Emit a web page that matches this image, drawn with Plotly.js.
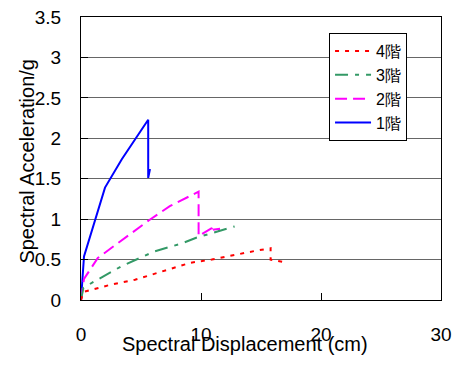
<!DOCTYPE html>
<html>
<head>
<meta charset="utf-8">
<script src="https://cdn.plot.ly/plotly-3.0.1.min.js"></script>
<style>html,body{margin:0;padding:0;background:#fff;}</style>
</head>
<body>
<div id="chart" style="width:453px;height:365px;"></div>
<script>
// Series names
const seriesNames = ["1階", "2階", "3階", "4階"];
// 1階 (solid blue)
const sd1 = [0, 0.25, 2.0, 3.4, 5.6, 5.6, 5.75];
const sa1 = [0, 0.54, 1.39, 1.74, 2.23, 1.51, 1.62];
// 2階 (dashed magenta)
const sd2 = [0, 0.25, 1.4, 3.4, 5.7, 7.4, 9.2, 9.8, 9.8, 10.3, 10.9, 10.9, 11.0, 11.5, 11.5];
const sa2 = [0, 0.26, 0.52, 0.74, 0.99, 1.16, 1.30, 1.34, 0.79, 0.84, 0.89, 0.84, 0.87, 0.88, 0.84];
// 3階 (dash-dot green)
const sd3 = [0, 0.2, 1.0, 3.4, 6.1, 8.4, 9.6, 12.8];
const sa3 = [0, 0.15, 0.22, 0.42, 0.60, 0.70, 0.77, 0.91];
// 4階 (dotted red)
const sd4 = [0, 0.2, 0.7, 2.5, 4.5, 6.6, 9.1, 10.9, 12.8, 14.6, 15.8, 15.8, 17.2];
const sa4 = [0, 0.10, 0.12, 0.19, 0.25, 0.35, 0.46, 0.50, 0.56, 0.61, 0.64, 0.50, 0.46];
// Axis ticks
const xTicks = [0, 10, 20, 30];
const yTicks = [0, 0.5, 1, 1.5, 2, 2.5, 3, 3.5];
const yTickText = ["0", "0.5", "1", "1.5", "2", "2.5", "3", "3.5"];

const font = "Liberation Sans, Arial, sans-serif";

const traces = [
  {x: sd1, y: sa1, name: seriesNames[0], mode: "lines", line: {color: "#0000ff", width: 2}},
  {x: sd2, y: sa2, name: seriesNames[1], mode: "lines", line: {color: "#ff00ff", width: 2, dash: "12px,6px"}},
  {x: sd3, y: sa3, name: seriesNames[2], mode: "lines", line: {color: "#339966", width: 2, dash: "13px,7px,4px,7px"}},
  {x: sd4, y: sa4, name: seriesNames[3], mode: "lines", line: {color: "#ff0000", width: 2, dash: "4px,6px"}}
];

const layout = {
  width: 453, height: 365,
  margin: {l: 81, r: 12, t: 17, b: 65},
  paper_bgcolor: "#fff", plot_bgcolor: "#fff",
  font: {family: font, size: 19, color: "#000"},
  showlegend: true,
  legend: {
    x: 0.689, y: 0.943, xanchor: "left", yanchor: "top",
    bgcolor: "#fff", bordercolor: "#000", borderwidth: 1,
    traceorder: "reversed", itemwidth: 36,
    font: {family: font, size: 16, color: "#000"}
  },
  xaxis: {
    range: [0, 30], tickvals: xTicks, ticktext: xTicks.map(String),
    showgrid: false, zeroline: false,
    showline: true, linecolor: "#000", linewidth: 1, mirror: true,
    ticks: "inside", ticklen: 7, tickcolor: "#000",
    ticklabelstandoff: 17,
    tickfont: {family: font, size: 19, color: "#000"}
  },
  yaxis: {
    range: [0, 3.5], tickvals: yTicks, ticktext: yTickText,
    showgrid: true, gridcolor: "#666", gridwidth: 1, zeroline: false,
    showline: true, linecolor: "#000", linewidth: 1, mirror: true,
    ticks: "inside", ticklen: 7, tickcolor: "#000",
    ticklabelstandoff: 15,
    tickfont: {family: font, size: 19, color: "#000"}
  },
  annotations: [
    {text: "Spectral Displacement (cm)", xref: "paper", yref: "paper", x: 0.456, y: 0, yshift: -44,
     xanchor: "center", yanchor: "middle", showarrow: false, font: {family: font, size: 20, color: "#000"}},
    {text: "Spectral Acceleration/g", xref: "paper", yref: "paper", x: 0, y: 0.489, xshift: -54,
     xanchor: "center", yanchor: "middle", textangle: -90, showarrow: false, font: {family: font, size: 20, color: "#000"}}
  ]
};

Plotly.newPlot("chart", traces, layout, {displayModeBar: false, staticPlot: true});
</script>
</body>
</html>
